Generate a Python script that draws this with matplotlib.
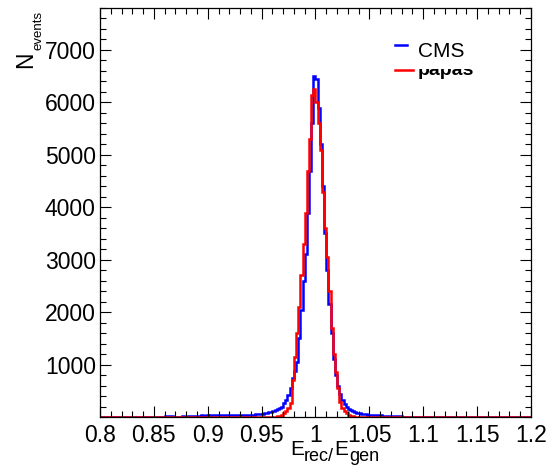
import numpy as np
from matplotlib import pyplot as plt
from matplotlib.transforms import Bbox

plt.rcParams['font.family'] = ['Liberation Sans', 'DejaVu Sans']

# histogram binning: 200 bins of 0.002 between 0.8 and 1.2
x_min, x_max, bin_width = 0.8, 1.2, 0.002

# CMS left tail, bins starting at 0.860 (40 bins up to 0.940)
cms_left_tail = [15, 20, 20, 10, 0, 5, 0, 5, 10, 0,
                 5, 10, 15, 20, 25, 20, 25, 30, 25, 30,
                 25, 30, 30, 35, 30, 35, 30, 30, 35, 40,
                 35, 40, 35, 35, 40, 40, 45, 40, 40, 45]

# core region, bins starting at 0.940 (60 bins up to 1.060)
cms_core = [45, 45, 50, 55, 60, 65, 70, 80, 90, 100,
            115, 130, 150, 170, 200, 260, 320, 420, 560, 750,
            880, 1050, 1500, 2050, 2600, 3100, 3900, 4700, 5600, 6500,
            6450, 5900, 5200, 4400, 3500, 2800, 2150, 1600, 1100, 800,
            600, 430, 320, 250, 200, 160, 130, 110, 90, 80,
            70, 60, 55, 50, 45, 40, 38, 35, 33, 30]
papas_core = [0, 0, 0, 0, 0, 0, 0, 0, 0, 0,
              3, 6, 12, 25, 45, 75, 120, 180, 260, 700,
              1150, 1600, 2100, 2700, 3300, 3900, 4700, 5300, 6150, 6250,
              6000, 5600, 5100, 4300, 3600, 3050, 2400, 1700, 1200, 850,
              550, 280, 180, 110, 70, 40, 20, 10, 5, 0,
              0, 0, 0, 0, 0, 0, 0, 0, 0, 0]

# CMS right tail, bins starting at 1.060 (10 bins up to 1.080)
cms_right_tail = [30, 28, 25, 25, 22, 20, 20, 18, 15, 12]

x_ticks = [0.8, 0.85, 0.9, 0.95, 1.0, 1.05, 1.1, 1.15, 1.2]
x_tick_labels = ['0.8', '0.85', '0.9', '0.95', '1', '1.05', '1.1', '1.15', '1.2']
y_ticks = [1000, 2000, 3000, 4000, 5000, 6000, 7000]


def fill_bins(edges, start, values):
    counts = np.zeros(len(edges) - 1)
    i0 = int(round((start - edges[0]) / bin_width))
    counts[i0:i0 + len(values)] = values
    return counts


edges = np.linspace(x_min, x_max, int(round((x_max - x_min) / bin_width)) + 1)
cms = fill_bins(edges, 0.86, cms_left_tail) + fill_bins(edges, 0.94, cms_core) + fill_bins(edges, 1.06, cms_right_tail)
papas = fill_bins(edges, 0.94, papas_core)

fig = plt.figure(figsize=(5.54, 4.65), dpi=100)
ax = fig.add_axes([100 / 554, 1 - 417 / 465, 431 / 554, 409 / 465])

ax.stairs(cms, edges, color='blue', lw=1.8)
ax.stairs(papas, edges, color='red', lw=1.8)

ax.set_xlim(x_min, x_max)
ax.set_ylim(0, 7800)
ax.set_xticks(x_ticks)
ax.set_xticklabels(x_tick_labels)
ax.set_xticks(np.arange(0.8, 1.2001, 0.01), minor=True)
ax.set_yticks(y_ticks)
ax.set_yticks(np.arange(0, 7801, 200), minor=True)
ax.tick_params(which='both', direction='in', top=True, right=True, labelsize=16.5, width=0.8)
ax.tick_params(which='major', length=8)
ax.tick_params(which='minor', length=4)
ax.tick_params(axis='x', pad=5)
ax.tick_params(axis='y', pad=3)
for s in ax.spines.values():
    s.set_linewidth(0.9)

# axis titles, ROOT style with large subscripts
W, H = 554, 465
fig.text(32 / W, 1 - 68 / H, 'N', fontsize=16.5, rotation=90, rotation_mode='anchor', ha='left', va='baseline')
fig.text(42 / W, 1 - 50 / H, 'events', fontsize=9.5, rotation=90, rotation_mode='anchor', ha='left', va='baseline')
for txt, px, py, size in [('E', 290, 455, 15), ('rec/', 304, 461, 13), ('E', 334, 455, 15), ('gen', 349, 461, 13)]:
    fig.text(px / W, 1 - py / H, txt, fontsize=size, ha='left', va='baseline')

# legend
ax.plot([0.684, 0.712], [0.910, 0.910], color='blue', lw=1.8, transform=ax.transAxes)
ax.plot([0.684, 0.726], [0.848, 0.848], color='red', lw=1.8, transform=ax.transAxes)
fig.text(418 / W, 1 - 57 / H, 'CMS', fontsize=15, ha='left', va='baseline')
papas_txt = fig.text(418 / W, 1 - 75 / H, 'papas', fontsize=14, fontweight='bold', ha='left', va='baseline')
papas_txt.set_clip_box(Bbox.from_extents(0, 0, W, H - 69))
papas_txt.set_clip_on(True)

fig.savefig('out.png', dpi=100)
